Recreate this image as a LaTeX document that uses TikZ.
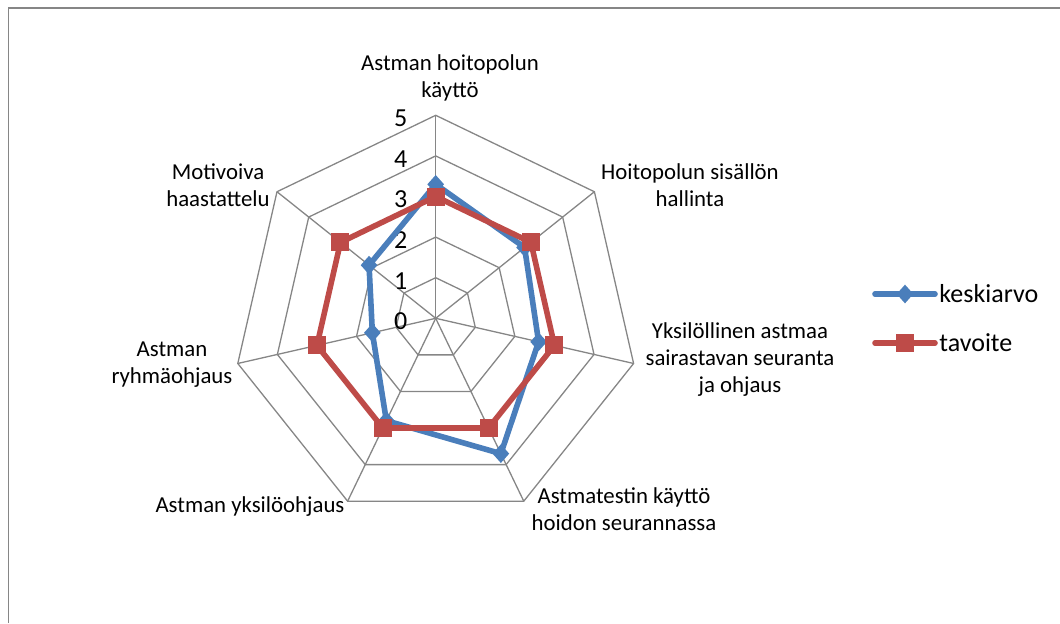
\documentclass[tikz,border=0pt]{standalone}
\usepackage{fontspec}
\setmainfont{Carlito}
\usetikzlibrary{shapes.geometric}
\definecolor{avgblue}{HTML}{4A7EBB}
\definecolor{goalred}{HTML}{BE4B48}
\definecolor{gridgray}{HTML}{868686}
\tikzset{
  gridline/.style={draw=gridgray, line width=0.65pt},
  avgline/.style={draw=avgblue, line width=2.8pt, line join=round},
  goalline/.style={draw=goalred, line width=2.8pt, line join=round},
  avgmark/.style={diamond, fill=avgblue, inner sep=0pt, minimum width=8.5pt, minimum height=9.5pt},
  goalmark/.style={rectangle, fill=goalred, inner sep=0pt, minimum size=9pt},
  axislabel/.style={align=center, font=\fontsize{11.4}{13.5}\selectfont},
  ticklabel/.style={font=\fontsize{13}{15}\selectfont, anchor=east, inner sep=1pt},
  legendtext/.style={font=\fontsize{13}{15}\selectfont, anchor=west, inner sep=1pt},
}

\begin{document}
\begin{tikzpicture}[x=0.5pt, y=0.5pt]
  \useasboundingbox (-435.7,-304.7) rectangle (624.3,318.3);
  % chart frame
  \draw[gridgray, line width=0.9pt] (-427.2,-304.7) -- (-427.2,310.3) -- (624.3,310.3);

  % web
  \coordinate (centre) at (0,0);
  \foreach \r in {1,...,5}
    \draw[gridline] (90:\r*40.6) \foreach \k in {1,...,6} { -- (90-\k*360/7:\r*40.6) } -- cycle;
  \foreach \k in {0,...,6} {
    \coordinate (rim\k) at (90-\k*360/7:5*40.6);
    \draw[gridline] (centre) -- (rim\k);
  }
  \foreach \r in {0,...,5}
    \node[ticklabel] (tick\r) at (-26,\r*40.6-3) {\r};

  % axis labels
  \node[axislabel] (lbhoito)   at (14.3,240.3)   {Astman hoitopolun\\käyttö};
  \node[axislabel] (lbsisalto) at (254.3,132.8)  {Hoitopolun sisällön\\hallinta};
  \node[axislabel] (lbseur)    at (304.3,-41.7)  {Yksilöllinen astmaa\\sairastavan seuranta\\ja ohjaus};
  \node[axislabel] (lbtesti)   at (188.3,-190.7) {Astmatestin käyttö\\hoidon seurannassa};
  \node[axislabel] (lbyksilo)  at (-185.7,-188.7) {Astman yksilöohjaus};
  \node[axislabel] (lbryhma)   at (-263.7,-46.2) {Astman\\ryhmäohjaus};
  \node[axislabel] (lbmotiv)   at (-217.7,132.8) {Motivoiva\\haastattelu};

  % series keskiarvo
  \foreach \v [count=\k from 0] in {3.3,2.8,2.6,3.7,2.8,1.6,2.1}
    \coordinate (a\k) at (90-\k*360/7:\v*40.6);
  \draw[avgline] (a0) -- (a1) -- (a2) -- (a3) -- (a4) -- (a5) -- (a6) -- cycle;
  \foreach \k in {0,...,6}
    \node[avgmark] (am\k) at (a\k) {};

  % series tavoite
  \foreach \v [count=\k from 0] in {3,3,3,3,3,3,3}
    \coordinate (g\k) at (90-\k*360/7:\v*40.6);
  \draw[goalline] (g0) -- (g1) -- (g2) -- (g3) -- (g4) -- (g5) -- (g6) -- cycle;
  \foreach \k in {0,...,6}
    \node[goalmark] (gm\k) at (g\k) {};

  % legend
  \coordinate (la1) at (439.3,24.3);
  \coordinate (la2) at (499.3,24.3);
  \draw[avgline, line cap=round] (la1) -- (la2);
  \node[avgmark] (lam) at (469.3,24.3) {};
  \node[legendtext] (latext) at (501.3,24.3) {keskiarvo};
  \coordinate (lg1) at (439.3,-24.7);
  \coordinate (lg2) at (499.3,-24.7);
  \draw[goalline, line cap=round] (lg1) -- (lg2);
  \node[goalmark] (lgm) at (469.3,-24.7) {};
  \node[legendtext] (lgtext) at (501.3,-24.7) {tavoite};
\end{tikzpicture}
\end{document}
